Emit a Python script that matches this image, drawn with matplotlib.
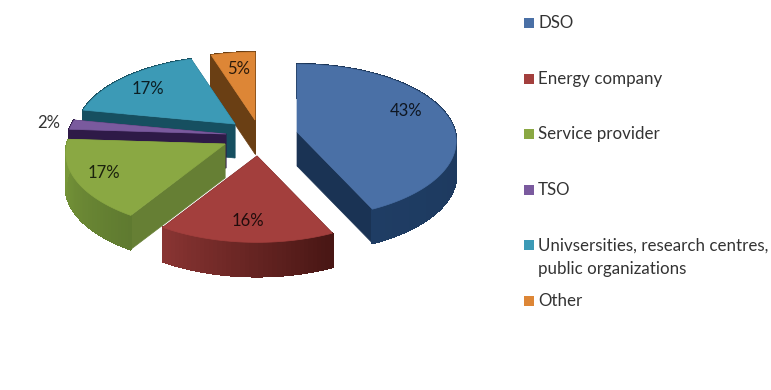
import numpy as np
import matplotlib
matplotlib.use("Agg")
import matplotlib.pyplot as plt
from matplotlib.colors import to_rgb
from matplotlib.patches import Polygon, Rectangle

categories = ["DSO", "Energy company", "Service provider", "TSO",
              "Univsersities, research centres,\npublic organizations", "Other"]
shares = [43, 16, 17, 2, 17, 5]
labels = ["43%", "16%", "17%", "2%", "17%", "5%"]

top_colors = ["#4a70a6", "#a33f3d", "#8aa843", "#7a5a9e", "#3c9ab6", "#dd8636"]
cut_colors = ["#1a3354", "#4f1a18", "#667f34", "#2e1a47", "#164f60", "#6a3f14"]
wall_left = ["#1a3354", "#8a3533", "#5f7a30", "#2e1a47", "#164f60", "#6a3f14"]
wall_right = ["#1f3d64", "#481614", "#7a9a3a", "#2e1a47", "#164f60", "#6a3f14"]

# centre of the pie and how far each slice is pulled out of it, in pixels
center = (255, 137)
shift = [(42, -5), (2, 19), (-30, 7), (-29, -3), (-20, -13), (0, -17)]
label_pos = [(406, 111), (248, 221), (104, 173), (49, 123), (148, 89), (239, 69)]
legend_y = [23, 79, 134, 190, 257, 301]

radius_x = 158
radius_y = 76
tilt = 0.12
depth = 34


def project(apex, theta):
    u, v = np.sin(theta), np.cos(theta)
    s = 1 / (1 + tilt * v)
    return np.column_stack((apex[0] + radius_x * u * s, apex[1] - radius_y * v * s))


def draw_slice(ax, i, start, end):
    apex = (center[0] + shift[i][0], center[1] + shift[i][1])
    thetas = np.linspace(start, end, max(int((end - start) * 40), 6))
    rim = project(apex, thetas)

    # cut faces first, the top covers whatever should stay hidden
    for p in (rim[0], rim[-1]):
        face = [apex, p, (p[0], p[1] + depth), (apex[0], apex[1] + depth)]
        ax.add_patch(Polygon(face, closed=True, fc=cut_colors[i], ec=cut_colors[i], lw=0.5))

    c0, c1 = np.array(to_rgb(wall_left[i])), np.array(to_rgb(wall_right[i]))
    for k in range(len(rim) - 1):
        t = k / (len(rim) - 1)
        col = c0 * (1 - t) + c1 * t if i != 1 else c1 * (1 - t) + c0 * t
        quad = [rim[k], rim[k + 1], rim[k + 1] + (0, depth), rim[k] + (0, depth)]
        # no antialiasing here, it leaves stripes between the quads
        ax.add_patch(Polygon(quad, closed=True, fc=col, ec=col, lw=1.0, antialiased=False))

    ax.add_patch(Polygon(np.vstack(([apex], rim)), closed=True, fc=top_colors[i],
                         ec=top_colors[i], lw=0.5))


def main():
    plt.rcParams["font.family"] = ["Lato", "DejaVu Sans"]
    fig = plt.figure(figsize=(7.71, 3.9), dpi=100, facecolor="white")
    ax = fig.add_axes([0, 0, 1, 1])
    ax.set_xlim(0, 771)
    ax.set_ylim(390, 0)
    ax.axis("off")

    edges = np.cumsum([0] + shares) / sum(shares) * 2 * np.pi
    # back to front
    for i in [5, 4, 3, 0, 2, 1]:
        draw_slice(ax, i, edges[i], edges[i + 1])

    for i, text in enumerate(labels):
        ax.text(label_pos[i][0], label_pos[i][1], text, ha="center", va="center",
                fontsize=12, color="black", alpha=0.8)

    for i, name in enumerate(categories):
        first_line = legend_y[i] if "\n" not in name else legend_y[i] - 12
        ax.add_patch(Rectangle((524, first_line - 5), 10, 10, fc=top_colors[i], ec="none"))
        ax.text(538, legend_y[i], name, ha="left", va="center", fontsize=12.2,
                color="#333333", linespacing=1.55)

    fig.savefig("out.png", dpi=100, facecolor="white")


if __name__ == "__main__":
    main()
